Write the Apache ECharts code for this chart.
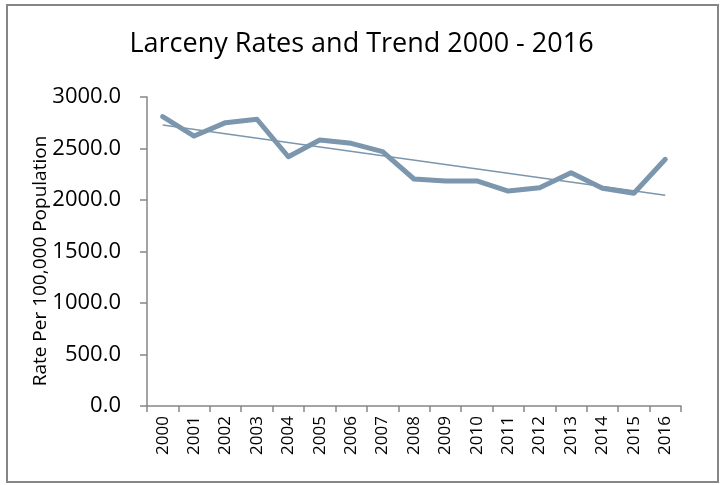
<!DOCTYPE html>
<html>
<head>
  <meta charset="utf-8" />
  <title>Larceny Rates and Trend 2000 - 2016</title>
  <script src="https://cdn.jsdelivr.net/npm/echarts@6/dist/echarts.min.js"></script>
  <style>
    html, body { margin: 0; padding: 0; background: #fff; }
    #chart { width: 723px; height: 485px; }
  </style>
</head>
<body>
  <div id="chart"></div>
  <script>
    // values
    const years = ['2000', '2001', '2002', '2003', '2004', '2005', '2006', '2007', '2008',
                   '2009', '2010', '2011', '2012', '2013', '2014', '2015', '2016'];
    const larcenyRates = [2809, 2621, 2751, 2784, 2420, 2583, 2550, 2469, 2204,
                          2185, 2185, 2087, 2120, 2265, 2114, 2065, 2395];
    // linear trend: value at first and last year
    const trendEnds = [2728, 2045];

    const trendData = years.map((y, i) =>
      i === 0 ? trendEnds[0] : (i === years.length - 1 ? trendEnds[1] : null));

    const lineColor = '#7B96AD';
    const axisColor = '#868686';
    const font = 'Open Sans';

    const chart = echarts.init(document.getElementById('chart'));
    chart.setOption({
      animation: false,
      title: {
        text: 'Larceny Rates and Trend 2000 - 2016',
        left: 'center',
        top: 26,
        textStyle: { fontFamily: font, fontSize: 27, fontWeight: 'normal', color: '#000' }
      },
      grid: { left: 147, right: 42, top: 97, bottom: 79 },
      xAxis: {
        type: 'category',
        data: years,
        boundaryGap: true,
        axisLine: { lineStyle: { color: axisColor, width: 1.5 } },
        axisTick: { show: true, length: 6, lineStyle: { color: axisColor, width: 1.5 } },
        axisLabel: {
          rotate: 90,
          margin: 10,
          interval: 0,
          fontFamily: font,
          fontSize: 17,
          color: '#000'
        }
      },
      yAxis: {
        type: 'value',
        min: 0,
        max: 3000,
        interval: 500,
        axisLine: { show: true, lineStyle: { color: axisColor, width: 1.5 } },
        axisTick: { show: true, length: 7, lineStyle: { color: axisColor, width: 1.5 } },
        splitLine: { show: false },
        axisLabel: {
          margin: 26,
          fontFamily: font,
          fontSize: 22,
          color: '#000',
          formatter: v => v.toFixed(1)
        }
      },
      graphic: [
        {
          type: 'rect',
          shape: { x: 7, y: 5, width: 711, height: 477 },
          style: { fill: null, stroke: axisColor, lineWidth: 2 },
          silent: true
        },
        {
          type: 'text',
          x: 41,
          y: 261,
          rotation: Math.PI / 2,
          style: {
            text: 'Rate Per 100,000 Population',
            fontFamily: font,
            fontSize: 19,
            fill: '#000',
            align: 'center',
            verticalAlign: 'middle'
          }
        }
      ],
      series: [
        {
          name: 'Larceny Rate',
          type: 'line',
          data: larcenyRates,
          symbol: 'none',
          lineStyle: { color: lineColor, width: 5, cap: 'round', join: 'round' }
        },
        {
          name: 'Trend',
          type: 'line',
          data: trendData,
          connectNulls: true,
          symbol: 'none',
          lineStyle: { color: lineColor, width: 1.5 }
        }
      ]
    });
  </script>
</body>
</html>
